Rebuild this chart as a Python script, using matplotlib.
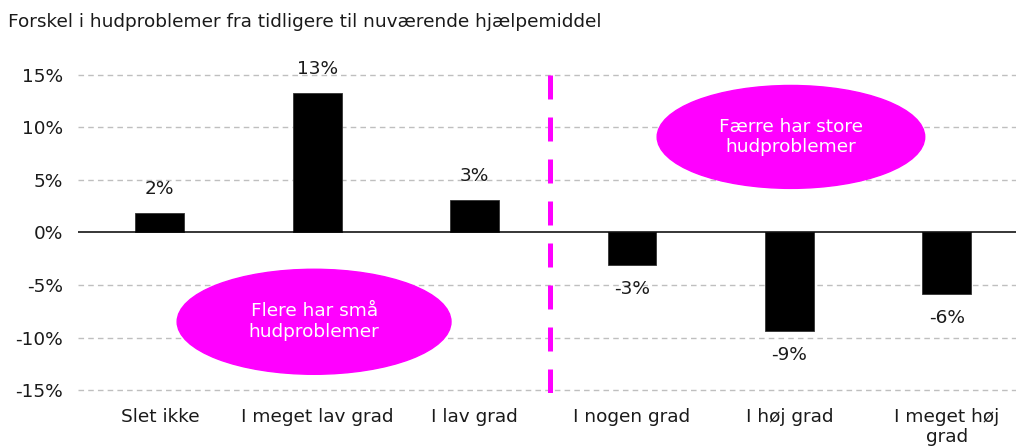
import matplotlib
matplotlib.use("Agg")
import matplotlib.pyplot as plt
from matplotlib.patches import Ellipse
import matplotlib.ticker as ticker

# ---- data ----
categories = ["Slet ikke", "I meget lav grad", "I lav grad",
              "I nogen grad", "I høj grad", "I meget høj\ngrad"]
values = [1.9, 13.3, 3.1, -3.1, -9.4, -5.9]
value_labels = ["2%", "13%", "3%", "-3%", "-9%", "-6%"]
yticks = [-15, -10, -5, 0, 5, 10, 15]
title = "Forskel i hudproblemer fra tidligere til nuværende hjælpemiddel"
note_left = "Flere har små\nhudproblemer"
note_right = "Færre har store\nhudproblemer"

MAGENTA = "#FF00FF"
TXT = "#1a1a1a"
FS = 13.3

plt.rcParams["font.family"] = ["DejaVu Sans"]

W, H = 1016, 446
fig = plt.figure(figsize=(W / 100, H / 100), dpi=100)
ax_left, ax_right = 78, 1016
ax_top, ax_bot = 71.8, 393.2
ax = fig.add_axes([ax_left / W, 1 - ax_bot / H, (ax_right - ax_left) / W, (ax_bot - ax_top) / H])

x = list(range(len(categories)))
ax.bar(x, values, width=0.31, color="black", edgecolor="#333333", linewidth=0.6, zorder=3)

for xi, v, lab in zip(x, values, value_labels):
    off = 17 if v >= 0 else -17
    ax.annotate(lab, (xi, v), xytext=(0, off), textcoords="offset points",
                ha="center", va="center", fontsize=FS, color=TXT)

ax.set_xlim(-0.52, 5.44)
ax.set_ylim(-15.3, 15.3)
ax.set_yticks(yticks)
ax.yaxis.set_major_formatter(ticker.FuncFormatter(lambda y, _: f"{y:.0f}%"))
ax.set_xticks(x)
ax.set_xticklabels(categories, fontsize=FS, color=TXT, linespacing=1.12)
ax.tick_params(axis="y", labelsize=FS, labelcolor=TXT, length=0, pad=11)
ax.tick_params(axis="x", length=0, pad=11)

for t in yticks:
    if t != 0:
        ax.axhline(t, color="#bfbfbf", linestyle=(0, (4, 3)), linewidth=1, zorder=1)
ax.axhline(0, color="black", linewidth=1.1, zorder=4)

for s in ax.spines.values():
    s.set_visible(False)

# divider between the two halves
ax.axvline(2.48, color=MAGENTA, linestyle=(0, (4.8, 3.6)), linewidth=3.6, zorder=2)

# annotation bubbles
ax.add_patch(Ellipse((0.98, -8.5), 1.74, 10.0, color=MAGENTA, zorder=5))
ax.text(0.98, -8.5, note_left, ha="center", va="center", color="white",
        fontsize=FS, linespacing=1.2, zorder=6)
ax.add_patch(Ellipse((4.01, 9.1), 1.70, 9.8, color=MAGENTA, zorder=5))
ax.text(4.01, 9.1, note_right, ha="center", va="center", color="white",
        fontsize=FS, linespacing=1.2, zorder=6)

fig.text(8 / W, 1 - 22 / H, title, ha="left", va="center", fontsize=FS, color=TXT)

fig.savefig("out.png", dpi=100)
